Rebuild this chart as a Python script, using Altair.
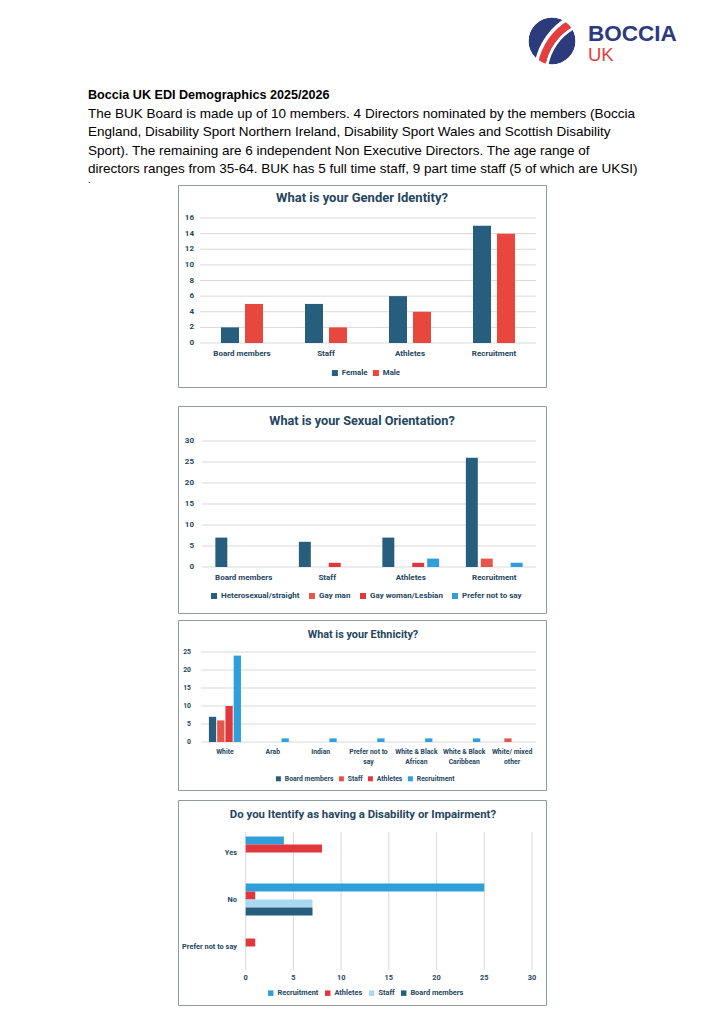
import altair as alt
import pandas as pd

# ---------------- data ----------------
doc_title = "Boccia UK EDI Demographics 2025/2026"
doc_lines = [
    "The BUK Board is made up of 10 members. 4 Directors nominated by the members (Boccia",
    "England, Disability Sport Northern Ireland, Disability Sport Wales and Scottish Disability",
    "Sport). The remaining are 6 independent Non Executive Directors. The age range of",
    "directors ranges from 35-64. BUK has 5  full time staff, 9 part time staff (5 of which are UKSI)",
]
logo_word = "BOCCIA"
logo_sub = "UK"

groups = ["Board members", "Staff", "Athletes", "Recruitment"]

gender_title = "What is your Gender Identity?"
gender_series = ["Female", "Male"]
gender_female = [2, 5, 6, 15]
gender_male = [5, 2, 4, 14]
gender_ticks = [0, 2, 4, 6, 8, 10, 12, 14, 16]

orient_title = "What is your Sexual Orientation?"
orient_series = ["Heterosexual/straight", "Gay man", "Gay woman/Lesbian", "Prefer not to say"]
orient_hetero = [7, 6, 7, 26]
orient_gayman = [0, 0, 0, 2]
orient_gaywoman = [0, 1, 1, 0]
orient_prefer = [0, 0, 2, 1]
orient_ticks = [0, 5, 10, 15, 20, 25, 30]

eth_title = "What is your Ethnicity?"
eth_cats = ["White", "Arab", "Indian", "Prefer not to say", "White & Black African",
            "White & Black Caribbean", "White/ mixed other"]
eth_label_line1 = ["White", "Arab", "Indian", "Prefer not to", "White & Black",
                   "White & Black", "White/ mixed"]
eth_label_line2 = ["", "", "", "say", "African", "Caribbean", "other"]
eth_series = ["Board members", "Staff", "Athletes", "Recruitment"]
eth_board = [7, 0, 0, 0, 0, 0, 0]
eth_staff = [6, 0, 0, 0, 0, 0, 1]
eth_athletes = [10, 0, 0, 0, 0, 0, 0]
eth_recruit = [24, 1, 1, 1, 1, 1, 0]
eth_ticks = [0, 5, 10, 15, 20, 25]

dis_title = "Do you Itentify as having a Disability or Impairment?"
dis_cats = ["Yes", "No", "Prefer not to say"]
dis_series = ["Recruitment", "Athletes", "Staff", "Board members"]
dis_recruit = [4, 25, 0]
dis_athletes = [8, 1, 1]
dis_staff = [0, 7, 0]
dis_board = [0, 7, 0]
dis_ticks = [0, 5, 10, 15, 20, 25, 30]

# ---------------- styles ----------------
W = 709
FONT = "Roboto"
DOC_FONT = "Liberation Sans"
TEXT = "#24465E"
TEAL = "#275E7E"
RED = "#E8473D"
RED_GAYMAN = "#E8564B"
RED_DARK = "#E0363D"
STAFF_RED = "#E2574C"
BLUE = "#2E9FD8"
LIGHT_BLUE = "#A9D8F0"
GRID = "#D9D9D9"
FRAME = "#8F9AA3"
NAVY = "#2B3B7C"
LOGO_RED = "#E63E3C"

one = pd.DataFrame({"k": [0]})


def long(cats, series, cols):
    rows = []
    for s, vals in zip(series, cols):
        for c, v in zip(cats, vals):
            rows.append({"cat": c, "series": s, "value": v})
    return pd.DataFrame(rows)


def txt(text, x, y, size, weight="normal", color="#000000", font=DOC_FONT,
        align="left", baseline="alphabetic"):
    return alt.Chart(one).mark_text(
        text=text, fontSize=size, fontWeight=weight, color=color, font=font,
        align=align, baseline=baseline
    ).encode(x=alt.value(x), y=alt.value(y))


def arc(cx, cy, r0, r1, t0, t1, color):
    return alt.Chart(one).mark_arc(
        radius=r1, radius2=r0, theta=t0, theta2=t1, color=color
    ).encode(x=alt.value(cx), y=alt.value(cy))


def frame(x0, y0, x1, y1):
    return alt.Chart(one).mark_rect(fill="white", fillOpacity=0, stroke=FRAME,
                                    strokeWidth=1).encode(
        x=alt.value(x0 + 0.5), x2=alt.value(x1 + 0.5),
        y=alt.value(y0 + 0.5), y2=alt.value(y1 + 0.5))


def leg(size, x, y, colpad, sym=36):
    return alt.Legend(orient="none", legendX=x, legendY=y, direction="horizontal", title=None,
                      symbolType="square", symbolSize=sym, symbolStrokeWidth=0,
                      labelFont=FONT, labelFontSize=size, labelFontWeight="bold",
                      labelColor=TEXT, columnPadding=colpad, labelOffset=3, padding=0)


def lbl(size, align="center", baseline="middle"):
    return dict(font=FONT, fontSize=size, fontWeight="bold", color=TEXT,
                align=align, baseline=baseline)


def vpanel(df, cats, series, colors, ticks, xr, yr, pad_in, pad_out, off_in,
           font, ylab_x, xlab_y, legend, title, title_size, title_xy, box, height,
           extra_lines=None, extra_y=None):
    xs = alt.Scale(domain=cats, range=xr, paddingInner=pad_in, paddingOuter=pad_out)
    ys = alt.Scale(domain=[ticks[0], ticks[-1]], range=yr, nice=False)
    tdf = pd.DataFrame({"t": ticks})
    grid = alt.Chart(tdf).mark_rule(color=GRID, strokeWidth=1).encode(
        y=alt.Y("t:Q", scale=ys, axis=None), x=alt.value(xr[0]), x2=alt.value(xr[1]))
    bars = alt.Chart(df).mark_bar().encode(
        x=alt.X("cat:N", scale=xs, axis=None),
        xOffset=alt.XOffset("series:N", sort=series,
                            scale=alt.Scale(paddingInner=off_in, paddingOuter=0)),
        y=alt.Y("value:Q", scale=ys, axis=None),
        color=alt.Color("series:N", sort=series,
                        scale=alt.Scale(domain=series, range=colors), legend=legend),
    )
    ylab = alt.Chart(tdf).mark_text(**lbl(font, "right")).encode(
        y=alt.Y("t:Q", scale=ys, axis=None), x=alt.value(ylab_x), text="t:Q")
    layers = [frame(*box), grid, bars, ylab]
    if extra_lines is None:
        cdf = pd.DataFrame({"cat": cats})
        layers.append(alt.Chart(cdf).mark_text(**lbl(font)).encode(
            x=alt.X("cat:N", scale=xs, axis=None), y=alt.value(xlab_y), text="cat:N"))
    else:
        cdf = pd.DataFrame({"cat": cats, "l1": extra_lines[0], "l2": extra_lines[1]})
        layers.append(alt.Chart(cdf).mark_text(**lbl(font)).encode(
            x=alt.X("cat:N", scale=xs, axis=None), y=alt.value(xlab_y), text="l1:N"))
        layers.append(alt.Chart(cdf).mark_text(**lbl(font)).encode(
            x=alt.X("cat:N", scale=xs, axis=None), y=alt.value(extra_y), text="l2:N"))
    layers.append(txt(title, title_xy[0], title_xy[1], title_size, "bold", TEXT, FONT,
                      "center", "middle"))
    return alt.layer(*layers).properties(width=W, height=height)


# ---------------- header (page y 8..185) ----------------
TAU = 6.2832
hdr_layers = [
    arc(544, 33, 0, 23.5, 0, TAU, NAVY),
    arc(592, 67, 52.5, 55.5, 4.887, 5.777, "white"),
    arc(592, 67, 55.5, 63, 4.887, 5.777, LOGO_RED),
    arc(592, 67, 63, 66.5, 4.887, 5.777, "white"),
    arc(544, 33, 23.5, 31, 0, TAU, "white"),
    txt(logo_word, 580, 33, 22.5, "bold", NAVY),
    txt(logo_sub, 580, 53, 18.5, "normal", LOGO_RED),
    txt(doc_title, 80, 91, 12.6, "bold"),
    txt(".", 80, 177, 9, baseline="bottom"),
]
for i, line in enumerate(doc_lines):
    hdr_layers.append(txt(line, 80, 109.6 + 18.6 * i, 13.5))
header = alt.layer(*hdr_layers).properties(width=W, height=177)

# ---------------- chart 1 (page y 185..396) ----------------
c1 = vpanel(
    long(groups, gender_series, [gender_female, gender_male]), groups, gender_series,
    [TEAL, RED], gender_ticks, [192, 528], [158, 33], 0.5, 0.25, 0.25,
    8, 186, 169, leg(7.8, 323, 184, 4), gender_title, 13, (354, 13),
    (170, 0, 538, 202), 211)

# ---------------- chart 2 (page y 396..616) ----------------
c2 = vpanel(
    long(groups, orient_series, [orient_hetero, orient_gayman, orient_gaywoman, orient_prefer]),
    groups, orient_series, [TEAL, RED_GAYMAN, RED_DARK, BLUE], orient_ticks,
    [194, 528], [171, 45], 0.32, 0.16, 0.2,
    8, 186, 182, leg(8, 202, 196, 8), orient_title, 12.7, (354, 25),
    (170, 10, 538, 217), 220)

# ---------------- chart 3 (page y 616..795) ----------------
c3 = vpanel(
    long(eth_cats, eth_series, [eth_board, eth_staff, eth_athletes, eth_recruit]),
    eth_cats, eth_series, [TEAL, STAFF_RED, RED_DARK, BLUE], eth_ticks,
    [193, 528], [126, 36], 0.33, 0.165, 0.12,
    6.8, 183, 136, leg(6.8, 267, 159, 4, 25), eth_title, 10.8, (355, 18.5),
    (170, 4, 538, 174), 179, extra_lines=(eth_label_line1, eth_label_line2), extra_y=146)

# ---------------- chart 4 (page y 795..1016) ----------------
xr4, yr4 = [237.7, 524], [34, 175]
xs4 = alt.Scale(domain=[0, 30], range=xr4, nice=False)
ys4 = alt.Scale(domain=dis_cats, range=yr4, paddingInner=0.32, paddingOuter=0.16)
t4 = pd.DataFrame({"t": dis_ticks})
grid4 = alt.Chart(t4).mark_rule(color=GRID, strokeWidth=1).encode(
    x=alt.X("t:Q", scale=xs4, axis=None), y=alt.value(37), y2=alt.value(175))
bars4 = alt.Chart(long(dis_cats, dis_series, [dis_recruit, dis_athletes, dis_staff, dis_board])
                  ).mark_bar().encode(
    y=alt.Y("cat:N", scale=ys4, axis=None),
    yOffset=alt.YOffset("series:N", sort=dis_series,
                        scale=alt.Scale(paddingInner=0, paddingOuter=0)),
    x=alt.X("value:Q", scale=xs4, axis=None),
    color=alt.Color("series:N", sort=dis_series,
                    scale=alt.Scale(domain=dis_series,
                                    range=[BLUE, RED_DARK, LIGHT_BLUE, TEAL]),
                    legend=leg(7.4, 259, 194, 5, 30)),
)
xlab4 = alt.Chart(t4).mark_text(**lbl(7.4)).encode(
    x=alt.X("t:Q", scale=xs4, axis=None), y=alt.value(183), text="t:Q")
ylab4 = alt.Chart(pd.DataFrame({"cat": dis_cats})).mark_text(**lbl(7.4, "right")).encode(
    y=alt.Y("cat:N", scale=ys4, axis=None), x=alt.value(229), text="cat:N")
c4 = alt.layer(
    frame(170, 5, 538, 210), grid4, bars4, xlab4, ylab4,
    txt(dis_title, 355, 20, 11.4, "bold", TEXT, FONT, "center", "middle"),
).properties(width=W, height=221)

chart = alt.vconcat(header, c1, c2, c3, c4, spacing=0).resolve_scale(
    color="independent", x="independent", y="independent",
    xOffset="independent", yOffset="independent"
).resolve_legend(color="independent").properties(
    padding=0, background="white"
).configure_view(stroke="transparent", strokeWidth=0)

chart.save("out.html", embed_options={"renderer": "svg", "actions": False})
